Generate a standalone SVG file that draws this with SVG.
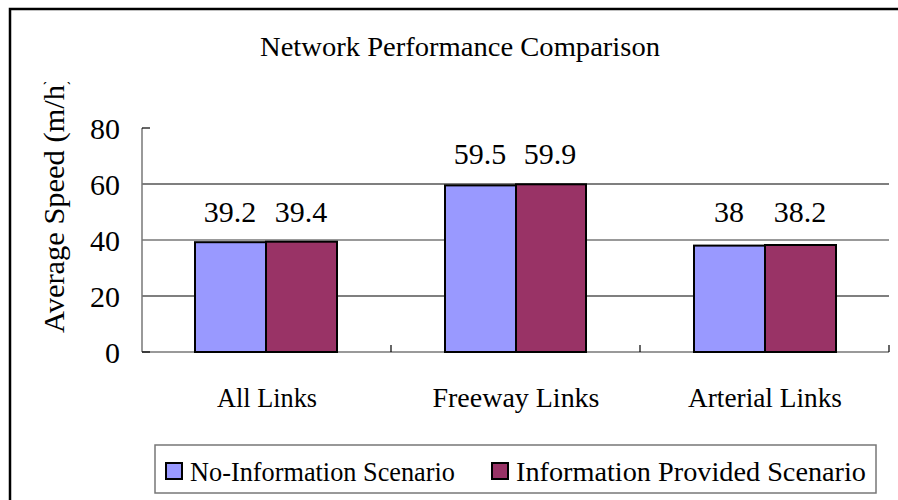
<svg xmlns="http://www.w3.org/2000/svg" width="898" height="500" viewBox="0 0 898 500">
<style>
text{font-family:'Liberation Serif','Times New Roman',serif;fill:#000}
.g{stroke:#000;stroke-width:1.2}
.ax{stroke:#777;stroke-width:1.5}
.b1{fill:#9999ff;stroke:#000;stroke-width:2}
.b2{fill:#993366;stroke:#000;stroke-width:2}
</style>
<rect x="0" y="0" width="898" height="500" fill="#fff"/>
<rect x="10" y="9" width="900" height="500" fill="none" stroke="#000" stroke-width="2.5"/>
<text x="460" y="56" text-anchor="middle" font-size="27" textLength="400" lengthAdjust="spacingAndGlyphs">Network Performance Comparison</text>
<g id="grid">
<line class="g" x1="142" y1="184" x2="889" y2="184"/>
<line class="ax" x1="142" y1="240" x2="889" y2="240"/>
<line class="g" x1="142" y1="296" x2="889" y2="296"/>
<line class="ax" x1="142" y1="128" x2="142" y2="352"/>
<line class="ax" x1="142" y1="352" x2="889" y2="352"/>
<line class="g" x1="142" y1="128" x2="150" y2="128"/>
<line class="g" x1="142" y1="352" x2="150" y2="352"/>
<line class="g" x1="391" y1="345" x2="391" y2="352"/>
<line class="g" x1="640" y1="345" x2="640" y2="352"/>
<line class="g" x1="889" y1="345" x2="889" y2="352"/>
</g>
<g id="yticks" font-size="30" text-anchor="end">
<text x="120" y="139">80</text>
<text x="120" y="195">60</text>
<text x="120" y="251">40</text>
<text x="120" y="307">20</text>
<text x="120" y="363">0</text>
</g>
<clipPath id="cl"><rect x="0" y="82" width="120" height="300"/></clipPath>
<g clip-path="url(#cl)"><text transform="translate(64,333) rotate(-90)" font-size="30" textLength="258" lengthAdjust="spacingAndGlyphs">Average Speed (m/h)</text></g>
<g id="bars">
<rect class="b1" x="195" y="242.2" width="71" height="109.8"/>
<rect class="b2" x="266" y="241.7" width="71" height="110.3"/>
<rect class="b1" x="445" y="185.4" width="71" height="166.6"/>
<rect class="b2" x="516" y="184.3" width="70" height="167.7"/>
<rect class="b1" x="694" y="245.6" width="71" height="106.4"/>
<rect class="b2" x="765" y="245" width="71" height="107"/>
</g>
<g id="labels" font-size="30" text-anchor="middle">
<text x="230" y="222">39.2</text>
<text x="301" y="222">39.4</text>
<text x="480" y="164">59.5</text>
<text x="550" y="164">59.9</text>
<text x="729" y="222">38</text>
<text x="800" y="222">38.2</text>
</g>
<g id="cats" font-size="27" text-anchor="middle">
<text x="267" y="407" textLength="100" lengthAdjust="spacingAndGlyphs">All Links</text>
<text x="516" y="407" textLength="167" lengthAdjust="spacingAndGlyphs">Freeway Links</text>
<text x="765" y="407" textLength="154" lengthAdjust="spacingAndGlyphs">Arterial Links</text>
</g>
<g id="legend">
<rect x="155" y="445" width="721" height="48" fill="#fff" stroke="#777" stroke-width="1.5"/>
<rect class="b1" x="166" y="463" width="16" height="16"/>
<text x="190" y="481" font-size="28" textLength="265" lengthAdjust="spacingAndGlyphs">No-Information Scenario</text>
<rect class="b2" x="492" y="463" width="16" height="16"/>
<text x="516" y="481" font-size="28" textLength="350" lengthAdjust="spacingAndGlyphs">Information Provided Scenario</text>
</g>
</svg>
